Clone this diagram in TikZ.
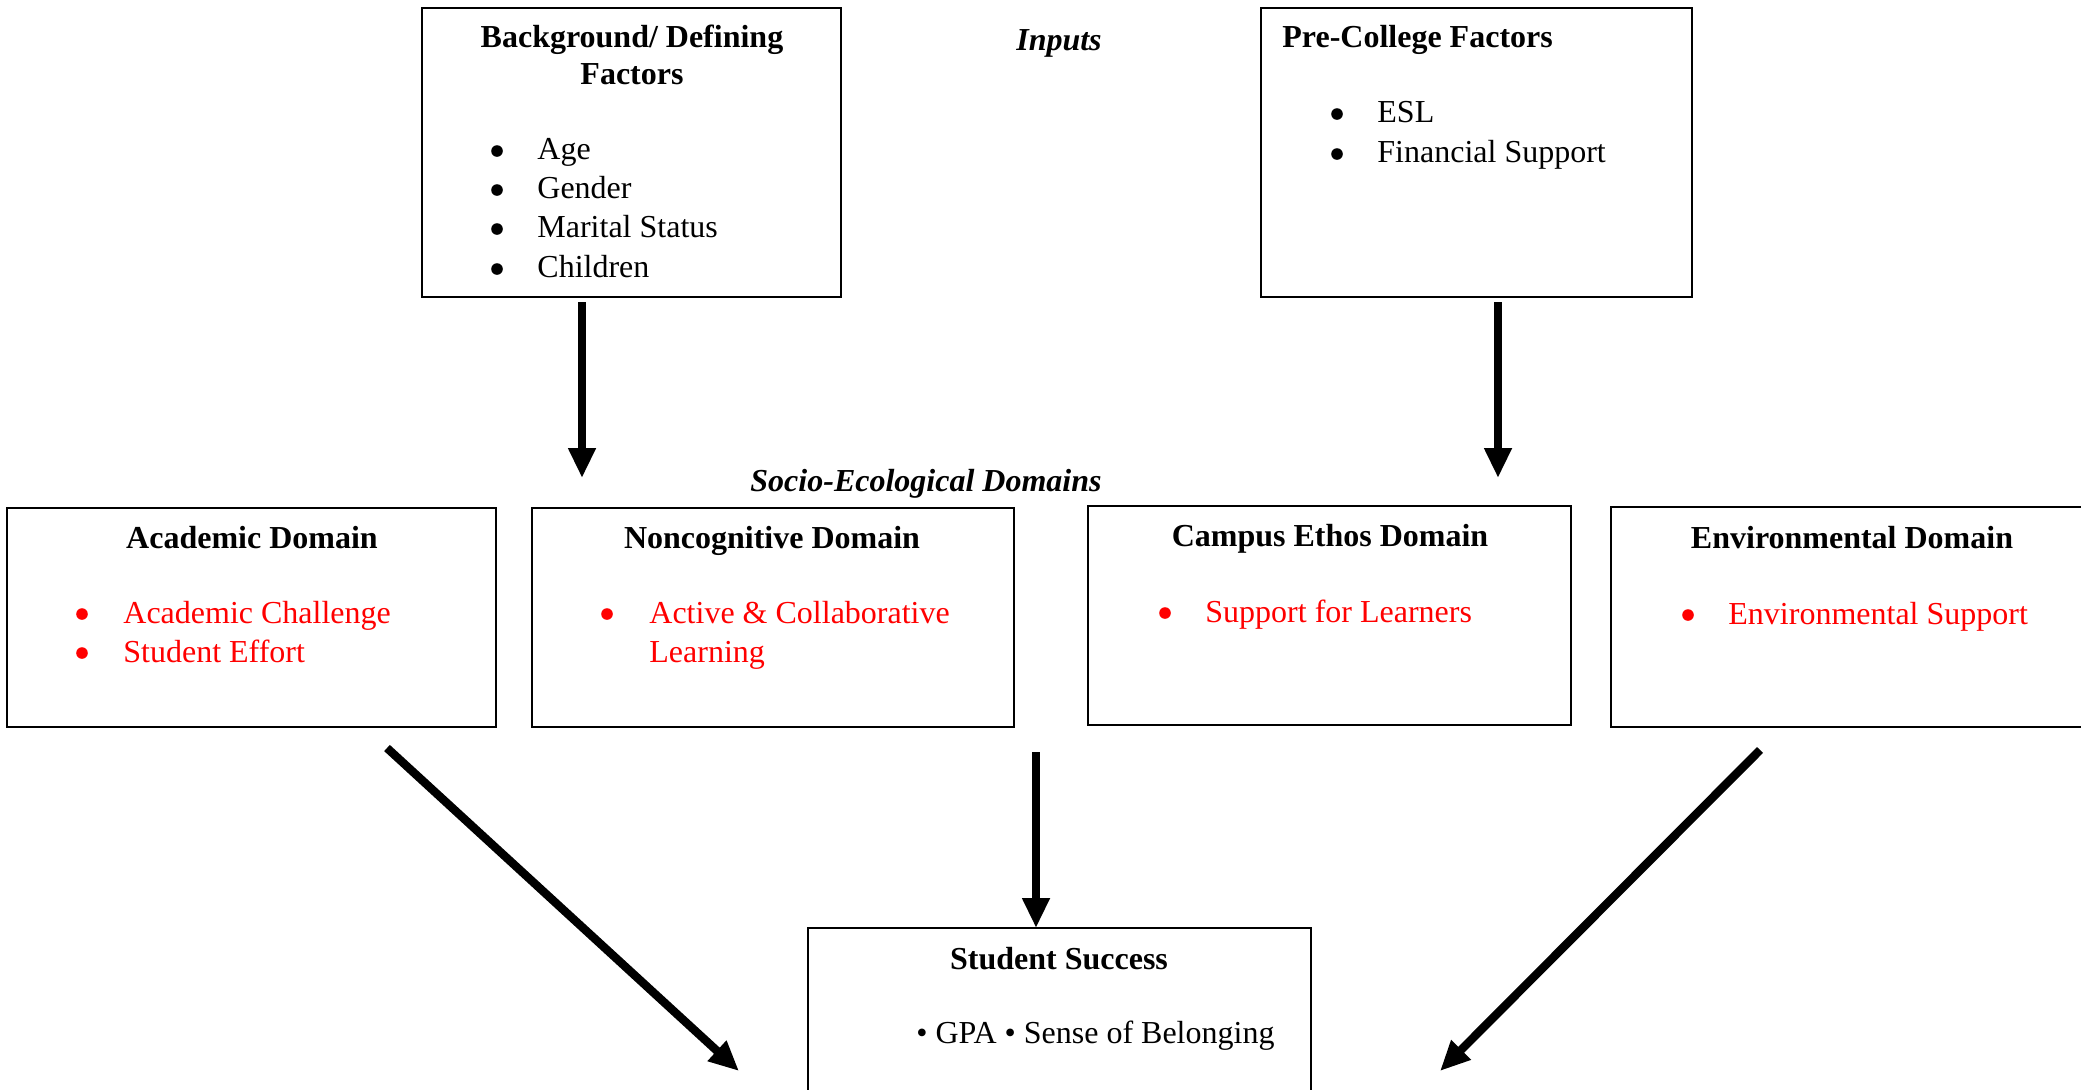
\documentclass[tikz,border=0pt]{standalone}
\usepackage{fontspec}
\setmainfont{Liberation Serif}
\usetikzlibrary{arrows.meta,fit}
\definecolor{myred}{RGB}{255,0,0}
\begin{document}
\begin{tikzpicture}[x=0.5pt,y=-0.5pt,
  box/.style={draw=black, line width=0.75pt, inner sep=0pt},
  txt/.style={font=\fontsize{16}{19.6}\selectfont, inner sep=0pt, anchor=base west},
  ttl/.style={font=\fontsize{16}{19.6}\selectfont\bfseries, inner sep=0pt, anchor=base},
  hdr/.style={font=\fontsize{16}{19.6}\selectfont\bfseries\itshape, inner sep=0pt, anchor=base},
  rtxt/.style={txt, text=myred},
  dot/.style={circle, fill=black, draw=none, inner sep=0pt, minimum size=5.8pt},
  rdot/.style={dot, fill=myred},
  arr/.style={line width=4.2pt, -{Triangle[length=15pt,width=13pt]}}
]
\clip (0,0) rectangle (2081,1089);
\fill[white] (0,0) rectangle (2081,1089);

% Background box
\node[box, fit={(422,8) (841,297)}] (bg) {};
\node[ttl] (bgt1) at (632,47) {Background/ Defining};
\node[ttl] (bgt2) at (632,84) {Factors};
\node[dot] (bgb1) at (497,151) {};
\node[txt] (bgi1) at (537,159) {Age};
\node[dot] (bgb2) at (497,190) {};
\node[txt] (bgi2) at (537,198) {Gender};
\node[dot] (bgb3) at (497,229) {};
\node[txt] (bgi3) at (537,237) {Marital Status};
\node[dot] (bgb4) at (497,269) {};
\node[txt] (bgi4) at (537,277) {Children};

% Inputs
\node[hdr] (inputs) at (1059,50) {Inputs};

% Pre-college box
\node[box, fit={(1261,8) (1692,297)}] (pc) {};
\node[ttl, anchor=base west] (pct) at (1282,47) {Pre-College Factors};
\node[dot] (pcb1) at (1337,114) {};
\node[txt] (pci1) at (1377,122) {ESL};
\node[dot] (pcb2) at (1337,154) {};
\node[txt] (pci2) at (1377,162) {Financial Support};

% Socio-Ecological Domains
\node[hdr] (soc) at (926,491) {Socio-Ecological Domains};

% Academic
\node[box, fit={(7,508) (496,727)}] (ac) {};
\node[ttl] (act) at (252,548) {Academic Domain};
\node[rdot] (acb1) at (82,614) {};
\node[rtxt] (aci1) at (123,623) {Academic Challenge};
\node[rdot] (acb2) at (82,653) {};
\node[rtxt] (aci2) at (123,662) {Student Effort};

% Noncognitive
\node[box, fit={(532,508) (1014,727)}] (nc) {};
\node[ttl] (nct) at (772,548) {Noncognitive Domain};
\node[rdot] (ncb1) at (607,614) {};
\node[rtxt] (nci1) at (649,623) {Active \& Collaborative};
\node[rtxt] (nci2) at (649,662) {Learning};

% Campus Ethos
\node[box, fit={(1088,506) (1571,725)}] (ce) {};
\node[ttl] (cet) at (1330,546) {Campus Ethos Domain};
\node[rdot] (ceb1) at (1165,613) {};
\node[rtxt] (cei1) at (1205,622) {Support for Learners};

% Environmental
\node[box, fit={(1611,507) (2110,727)}] (en) {};
\node[ttl] (ent) at (1852,548) {Environmental Domain};
\node[rdot] (enb1) at (1688,615) {};
\node[rtxt] (eni1) at (1728,624) {Environmental Support};

% Student Success
\node[box, fit={(808,928) (1311,1110)}] (ss) {};
\node[ttl] (sst) at (1059,969) {Student Success};
\node[txt] (ssi) at (916,1043) {\textbullet{} GPA \textbullet{} Sense of Belonging};

% arrow end points
\coordinate (a1s) at (582,302);
\coordinate (a1e) at (582,478);
\coordinate (a2s) at (1498,302);
\coordinate (a2e) at (1498,478);
\coordinate (a3s) at (1036,752);
\coordinate (a3e) at (1036,928);
\coordinate (a4s) at (387,748);
\coordinate (a4e) at (739,1071);
\coordinate (a5s) at (1760,750);
\coordinate (a5e) at (1440,1071);

\draw[arr] (a1s) -- (a1e);
\draw[arr] (a2s) -- (a2e);
\draw[arr] (a3s) -- (a3e);
\draw[arr] (a4s) -- (a4e);
\draw[arr] (a5s) -- (a5e);
\end{tikzpicture}
\end{document}
